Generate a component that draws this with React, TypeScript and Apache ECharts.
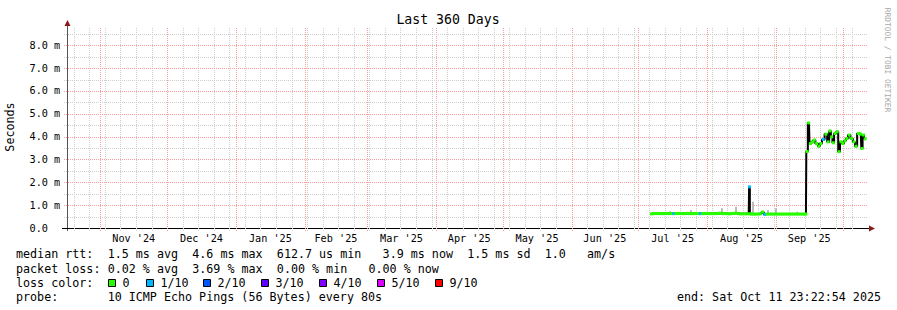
import React, { useEffect, useRef } from 'react';
import * as echarts from 'echarts';

// ---------- data ----------
const END_TIME = '2025-10-11T23:22:54';
const SPAN_DAYS = 360;

const rttTimes = [
  '2025-07-07T00:00', '2025-07-08T00:00', '2025-07-09T00:00', '2025-07-10T00:00', '2025-07-11T00:00',
  '2025-07-12T00:00', '2025-07-13T00:00', '2025-07-14T00:00', '2025-07-15T00:00', '2025-07-16T00:00',
  '2025-07-17T00:00', '2025-07-18T00:00', '2025-07-19T00:00', '2025-07-20T00:00', '2025-07-21T00:00',
  '2025-07-22T00:00', '2025-07-23T00:00', '2025-07-24T00:00', '2025-07-25T00:00', '2025-07-26T00:00',
  '2025-07-27T00:00', '2025-07-28T00:00', '2025-07-29T00:00', '2025-07-30T00:00', '2025-07-31T00:00',
  '2025-08-01T00:00', '2025-08-02T00:00', '2025-08-03T00:00', '2025-08-04T00:00', '2025-08-05T00:00',
  '2025-08-06T00:00', '2025-08-07T00:00', '2025-08-08T00:00', '2025-08-09T00:00', '2025-08-10T00:00',
  '2025-08-11T00:00', '2025-08-12T00:00', '2025-08-13T00:00', '2025-08-14T00:00', '2025-08-15T00:00',
  '2025-08-16T00:00', '2025-08-17T00:00', '2025-08-18T00:00', '2025-08-19T18:00', '2025-08-20T02:00',
  '2025-08-20T10:00', '2025-08-21T00:00', '2025-08-22T00:00', '2025-08-23T00:00', '2025-08-24T00:00',
  '2025-08-25T00:00', '2025-08-26T00:00', '2025-08-27T00:00', '2025-08-28T00:00', '2025-08-29T00:00',
  '2025-08-30T00:00', '2025-08-31T00:00', '2025-09-01T00:00', '2025-09-02T00:00', '2025-09-03T00:00',
  '2025-09-04T00:00', '2025-09-05T00:00', '2025-09-06T00:00', '2025-09-07T00:00', '2025-09-08T00:00',
  '2025-09-09T00:00', '2025-09-10T00:00', '2025-09-11T00:00', '2025-09-12T00:00', '2025-09-13T00:00',
  '2025-09-14T00:00', '2025-09-14T12:00', '2025-09-14T20:00', '2025-09-15T21:00', '2025-09-16T08:00',
  '2025-09-17T13:00', '2025-09-18T03:00', '2025-09-19T08:00', '2025-09-20T09:00', '2025-09-21T03:00',
  '2025-09-22T07:00', '2025-09-23T12:00', '2025-09-24T14:00', '2025-09-25T08:00', '2025-09-26T02:00',
  '2025-09-26T18:00', '2025-09-27T14:00', '2025-09-28T14:00', '2025-09-29T11:00', '2025-09-30T04:00',
  '2025-10-01T06:00', '2025-10-02T02:00', '2025-10-02T21:00', '2025-10-03T23:00', '2025-10-05T02:00',
  '2025-10-06T03:00', '2025-10-07T00:00', '2025-10-08T02:00', '2025-10-09T04:00', '2025-10-09T17:00',
  '2025-10-10T06:00', '2025-10-11T02:00',
];

// median rtt in ms
const rttMedian = [
  0.62, 0.63, 0.63, 0.64, 0.63,
  0.63, 0.63, 0.64, 0.63, 0.63,
  0.63, 0.63, 0.64, 0.63, 0.63,
  0.63, 0.64, 0.63, 0.63, 0.63,
  0.64, 0.63, 0.63, 0.63, 0.63,
  0.64, 0.63, 0.63, 0.63, 0.63,
  0.64, 0.65, 0.63, 0.63, 0.63,
  0.62, 0.63, 0.64, 0.65, 0.63,
  0.62, 0.62, 0.62, 0.62, 1.80,
  0.62, 0.61, 0.61, 0.61, 0.61,
  0.62, 0.70, 0.60, 0.61, 0.61,
  0.61, 0.61, 0.61, 0.61, 0.61,
  0.61, 0.61, 0.61, 0.61, 0.61,
  0.61, 0.61, 0.61, 0.61, 0.61,
  0.61, 0.61, 3.35, 4.60, 3.70,
  3.77, 3.85, 3.70, 3.58, 3.70,
  3.88, 4.11, 3.77, 4.25, 3.99,
  3.73, 4.14, 4.21, 3.34, 3.77,
  3.70, 3.82, 3.92, 4.07, 3.92,
  3.77, 3.58, 4.14, 4.11, 3.48,
  4.07, 3.90,
];

// lost pings out of 10
const rttLoss = [
  0, 0, 0, 0, 0,
  0, 0, 0, 0, 0,
  1, 0, 0, 0, 0,
  0, 0, 0, 0, 0,
  0, 0, 1, 0, 0,
  0, 0, 0, 0, 0,
  0, 0, 0, 0, 0,
  0, 0, 0, 0, 0,
  0, 0, 0, 0, 1,
  0, 0, 0, 0, 0,
  0, 0, 1, 0, 0,
  0, 0, 0, 0, 0,
  0, 0, 0, 0, 0,
  0, 0, 0, 0, 0,
  0, 0, 0, 0, 0,
  0, 0, 0, 0, 0,
  1, 0, 0, 0, 0,
  0, 0, 0, 0, 0,
  0, 0, 0, 0, 0,
  0, 0, 0, 0, 0,
  0, 0,
];

// visible grey "smoke" (spread of the pings) in ms
const smokeTimes = [
  '2025-07-15T08:00', '2025-07-20T00:00', '2025-07-24T18:00', '2025-07-27T00:00', '2025-08-03T00:00',
  '2025-08-07T17:00', '2025-08-14T01:00', '2025-08-21T16:00', '2025-08-25T18:00', '2025-08-28T10:00',
  '2025-09-01T00:00', '2025-09-10T11:00',
];
const smokeMin = [0.62, 0.62, 0.62, 0.62, 0.62, 0.62, 0.62, 0.61, 0.61, 0.61, 0.61, 0.61];
const smokeMax = [0.73, 0.68, 0.79, 0.68, 0.68, 0.86, 0.93, 1.15, 0.74, 0.79, 0.86, 0.71];

const monthStarts = [
  '2024-11-01', '2024-12-01', '2025-01-01', '2025-02-01', '2025-03-01', '2025-04-01',
  '2025-05-01', '2025-06-01', '2025-07-01', '2025-08-01', '2025-09-01', '2025-10-01',
];
const monthLabels = [
  "Nov '24", "Dec '24", "Jan '25", "Feb '25", "Mar '25", "Apr '25",
  "May '25", "Jun '25", "Jul '25", "Aug '25", "Sep '25",
];
const firstWeekLine = '2024-10-20';

const yMajor = [1, 2, 3, 4, 5, 6, 7, 8];
const yMinor = [0.5, 1.5, 2.5, 3.5, 4.5, 5.5, 6.5, 7.5, 8.5];
const Y_MAX = 8.8;

const lossColors = ['#26ff00', '#00b8ff', '#0059ff', '#5e00ff', '#7e00ff', '#dd00ff', '#ff0000'];
const lossLabels = ['0', '1/10', '2/10', '3/10', '4/10', '5/10', '9/10'];

const statsRtt = ['median rtt:', '1.5 ms avg', '4.6 ms max', '612.7 us min', '3.9 ms now', '1.5 ms sd', '1.0', 'am/s'];
const statsLoss = ['packet loss:', '0.02 % avg', '3.69 % max', '0.00 % min', '0.00 % now'];
const probeText = ['probe:', '10 ICMP Echo Pings (56 Bytes) every 80s'];
const endText = 'end: Sat Oct 11 23:22:54 2025';

// ---------- layout ----------
const FONT = "'DejaVu Sans Mono', monospace";
const LEG_SIZE = 11.7;
const CHAR_W = 7.05;
const LEG_X = 16;
const rttCols = [0, 13, 25, 37, 52, 64, 75, 81];
const lossCols = [0, 13, 25, 37, 50];
const probeCols = [0, 13];
const legendBoxX = [108, 146, 203, 261, 319, 377, 435];

const DAY = 86400000;
const ms = (s: string) => Date.parse((s.length === 10 ? s + 'T00:00:00' : s.length === 16 ? s + ':00' : s) + 'Z');

export default function App() {
  const ref = useRef<HTMLDivElement>(null);

  useEffect(() => {
    if (!ref.current) return;
    const chart = echarts.init(ref.current, undefined, { renderer: 'svg' });

    const xMax = ms(END_TIME);
    const xMin = xMax - SPAN_DAYS * DAY;

    const pts = rttTimes.map((t) => ms(t));
    const medianData = pts.map((t, i) => [t, rttMedian[i]]);
    const segData = pts.map((t, i) => [
      t,
      rttMedian[i],
      rttLoss[i],
      i > 0 ? (pts[i - 1] + t) / 2 : t - DAY / 2,
      i < pts.length - 1 ? (pts[i + 1] + t) / 2 : t + DAY / 2,
    ]);
    const smokeData = smokeTimes.map((t, i) => [ms(t), smokeMin[i], smokeMax[i]]);

    const monthMs = monthStarts.map(ms);
    const vLines: number[][] = monthMs.map((t) => [t, 1]);
    for (let t = ms(firstWeekLine); t < xMax; t += 7 * DAY) {
      if (!monthMs.some((m) => Math.abs(m - t) < DAY / 2)) vLines.push([t, 0]);
    }
    const hLines: number[][] = [...yMajor.map((v) => [v, 1]), ...yMinor.map((v) => [v, 0])];
    const labelData = monthLabels.map((l, i) => [(monthMs[i] + monthMs[i + 1]) / 2, 0, l]);

    const crisp = (v: number) => Math.round(v) + 0.5;
    const MAJOR = '#ff9d9d';
    const MINOR = '#cdcdcd';

    const graphic: any[] = [];
    graphic.push({ type: 'text', x: 448, y: 19, style: { text: 'Last 360 Days', fontFamily: FONT, fontSize: 13.2, fill: '#000', textAlign: 'center', textVerticalAlign: 'middle' } });
    graphic.push({ type: 'text', x: 10, y: 127, rotation: Math.PI / 2, style: { text: 'Seconds', fontFamily: FONT, fontSize: LEG_SIZE, fill: '#000', textAlign: 'center', textVerticalAlign: 'middle' } });
    graphic.push({ type: 'text', x: 887, y: 60, rotation: -Math.PI / 2, style: { text: 'RRDTOOL / TOBI OETIKER', fontFamily: FONT, fontSize: 7.9, fill: '#a8a8a8', textAlign: 'center', textVerticalAlign: 'middle' } });
    graphic.push({ type: 'line', shape: { x1: 67.5, y1: 231, x2: 67.5, y2: 24 }, style: { stroke: '#555', lineWidth: 1 } });
    graphic.push({ type: 'line', shape: { x1: 62, y1: 228.5, x2: 870, y2: 228.5 }, style: { stroke: '#000', lineWidth: 1 } });
    graphic.push({ type: 'polygon', shape: { points: [[64.5, 26], [70.5, 26], [67.5, 20]] }, style: { fill: '#8b1a1a' } });
    graphic.push({ type: 'polygon', shape: { points: [[869, 225.5], [869, 231.5], [875, 228.5]] }, style: { fill: '#8b1a1a' } });

    const legText = (text: string, col: number, y: number) => ({
      type: 'text', x: LEG_X + col * CHAR_W, y,
      style: { text, fontFamily: FONT, fontSize: LEG_SIZE, fill: '#000', textAlign: 'left', textVerticalAlign: 'middle' },
    });
    statsRtt.forEach((s, i) => graphic.push(legText(s, rttCols[i], 254.3)));
    statsLoss.forEach((s, i) => graphic.push(legText(s, lossCols[i], 268.6)));
    graphic.push(legText('loss color:', 0, 283));
    lossLabels.forEach((l, i) => {
      graphic.push({ type: 'rect', shape: { x: legendBoxX[i] + 0.5, y: 279.5, width: 7, height: 7 }, style: { fill: lossColors[i], stroke: '#000', lineWidth: 1 } });
      graphic.push({ type: 'text', x: legendBoxX[i] + 14.5, y: 283, style: { text: l, fontFamily: FONT, fontSize: LEG_SIZE, fill: '#000', textAlign: 'left', textVerticalAlign: 'middle' } });
    });
    probeText.forEach((s, i) => graphic.push(legText(s, probeCols[i], 297.4)));
    graphic.push({ type: 'text', x: 881, y: 297.4, style: { text: endText, fontFamily: FONT, fontSize: LEG_SIZE, fill: '#000', textAlign: 'right', textVerticalAlign: 'middle' } });

    chart.setOption({
      animation: false,
      backgroundColor: '#fff',
      grid: { left: 67, right: 30, top: 27, bottom: 82, containLabel: false },
      xAxis: {
        type: 'value', min: xMin, max: xMax,
        axisLine: { show: false }, axisTick: { show: false }, axisLabel: { show: false }, splitLine: { show: false },
      },
      yAxis: {
        type: 'value', min: 0, max: Y_MAX, interval: 1,
        axisLine: { show: false }, axisTick: { show: false }, splitLine: { show: false },
        axisLabel: {
          align: 'left', margin: 37.5, fontFamily: FONT, fontSize: 10.2, color: '#000',
          formatter: (v: number) => (Math.abs(v - Math.round(v)) > 1e-6 ? '' : v === 0 ? '0.0' : v.toFixed(1) + ' m'),
        },
      },
      graphic,
      series: [
        {
          type: 'custom', name: 'vgrid', silent: true, z: 1,
          data: vLines,
          renderItem: (_p: any, api: any) => {
            const t = api.value(0);
            const top = api.coord([t, Y_MAX]);
            const bot = api.coord([t, 0]);
            const x = crisp(top[0]);
            return { type: 'line', shape: { x1: x, y1: bot[1] + 3, x2: x, y2: top[1] }, style: { stroke: api.value(1) ? MAJOR : MINOR, lineWidth: 1, lineDash: [1, 1] } };
          },
        },
        {
          type: 'custom', name: 'hgrid', silent: true, z: 1,
          data: hLines,
          encode: { y: 0 },
          renderItem: (_p: any, api: any) => {
            const v = api.value(0);
            const a = api.coord([xMin, v]);
            const b = api.coord([xMax, v]);
            const y = crisp(a[1]);
            return { type: 'line', shape: { x1: a[0] - 3, y1: y, x2: b[0], y2: y }, style: { stroke: api.value(1) ? MAJOR : MINOR, lineWidth: 1, lineDash: [1, 1] } };
          },
        },
        {
          type: 'custom', name: 'months', silent: true, z: 3,
          data: labelData,
          renderItem: (p: any, api: any) => {
            const c = api.coord([api.value(0), 0]);
            return { type: 'text', x: c[0], y: c[1] + 10.5, style: { text: labelData[p.dataIndex][2], fontFamily: FONT, fontSize: 10.2, fill: '#000', textAlign: 'center', textVerticalAlign: 'middle' } };
          },
        },
        {
          type: 'custom', name: 'smoke', silent: true, z: 4,
          data: smokeData,
          renderItem: (_p: any, api: any) => {
            const t = api.value(0);
            const lo = api.coord([t, api.value(1)]);
            const hi = api.coord([t, api.value(2)]);
            return { type: 'rect', shape: { x: Math.round(lo[0]) - 1, y: hi[1], width: 2, height: lo[1] - hi[1] }, style: { fill: '#bcbcbc' } };
          },
        },
        {
          type: 'line', name: 'median', z: 5,
          data: medianData, step: 'middle', showSymbol: false, silent: true,
          lineStyle: { color: '#000', width: 2 },
        },
        {
          type: 'custom', name: 'loss', silent: true, z: 6,
          data: segData,
          renderItem: (_p: any, api: any) => {
            const v = api.value(1);
            const l = api.value(2);
            const a = api.coord([api.value(3), v]);
            const b = api.coord([api.value(4), v]);
            const mid = (a[0] + b[0]) / 2;
            const half = Math.max((b[0] - a[0]) / 2, 1.5);
            const c = lossColors[Math.min(l, 6)];
            return { type: 'line', shape: { x1: mid - half, y1: a[1], x2: mid + half, y2: b[1] }, style: { stroke: c, lineWidth: 3 } };
          },
        },
      ],
    });

    return () => chart.dispose();
  }, []);

  return <div ref={ref} style={{ position: 'fixed', left: 0, top: 0, width: 897, height: 310 }} />;
}
